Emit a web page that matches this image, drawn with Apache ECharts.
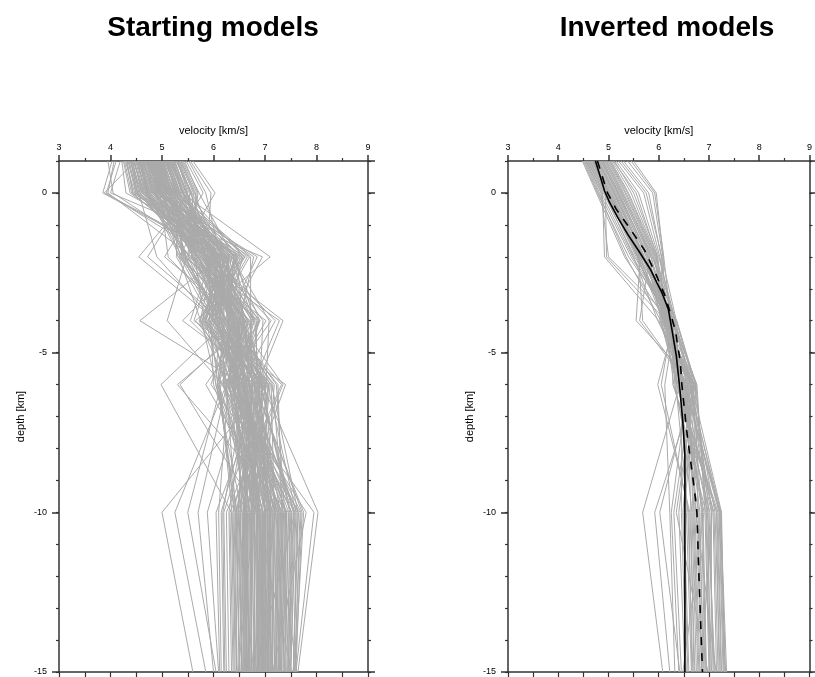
<!DOCTYPE html>
<html><head><meta charset="utf-8">
<script src="https://cdn.jsdelivr.net/npm/echarts@6/dist/echarts.min.js"></script>
<style>html,body{margin:0;padding:0;background:#fff}#c{width:815px;height:677px}</style>
</head><body><div id="c"></div>
<script>
// depth nodes of the models (km)
const depthNodes = [1, 0, -2, -4, -6, -10, -15];

// Starting models: velocity (km/s) at each depth node, one value per model
const startV_p1 = [4.62,5.08,4.35,4.91,5.27,4.48,4.77,5.12,3.95,4.83,
 5.34,4.56,4.99,4.41,5.18,4.70,5.02,4.29,4.88,5.41,
 4.65,4.95,4.52,5.21,4.11,4.79,5.06,4.38,4.93,5.30,
 4.60,4.85,5.14,4.45,5.55,4.73,4.97,4.32,5.10,4.68,
 4.90,5.24,4.50,4.81,4.03,5.00,4.63,5.37,4.76,4.42,
 5.16,4.87,4.58,5.04,4.25,4.94,5.29,4.71,4.46,5.09,
 4.84,4.36,5.22,4.66,4.98,4.54,5.47,4.80,4.19,5.01,
 4.74,4.89,4.43,5.13,4.61,5.33,4.92,4.57,4.80,5.19,
 4.40,4.96,4.69,5.07,4.27,4.86,5.25,4.53,4.75,5.60,
 4.64,5.03,4.49,4.82,5.11,4.34,4.78,5.39,4.59,4.99,
 4.72,5.15,4.44,4.97,5.31,4.58,4.86,5.20,4.07,4.91,
 5.05,4.47,4.79,5.36,4.63,4.94,4.31,5.11,4.70,5.44,
 4.56,4.88,5.23,4.39,4.99,5.08,4.68,4.83,5.52,4.51,
 4.95,4.62,5.17,4.76,4.22,5.01,4.87,5.28,4.54,4.73];
const startV_0 = [4.85,5.32,4.52,5.10,5.58,3.88,4.96,5.25,4.05,5.02,
 5.61,4.71,5.20,4.60,5.44,4.90,5.15,4.47,5.05,5.72,
 4.80,5.12,4.66,5.38,3.92,4.98,5.29,4.58,5.08,5.50,
 4.77,5.01,5.36,4.63,5.95,4.92,5.17,4.44,5.27,4.86,
 5.09,5.46,4.69,4.99,3.85,5.21,4.82,5.65,4.94,4.55,
 5.40,5.06,4.75,5.23,4.38,5.13,5.53,4.89,4.61,5.31,
 5.03,4.50,5.42,4.84,5.18,4.73,5.80,4.97,4.00,5.19,
 4.93,5.07,4.57,5.34,4.79,5.56,5.11,4.70,4.95,5.41,
 4.53,5.14,4.88,5.28,4.41,5.04,5.48,4.68,4.91,6.03,
 4.81,5.24,4.64,5.00,5.35,4.49,4.96,5.68,4.76,5.16,
 4.95,5.40,4.66,5.12,5.55,4.72,5.08,5.47,3.95,5.15,
 5.30,4.61,5.02,5.63,4.88,5.19,4.43,5.36,4.98,5.70,
 4.74,5.10,5.49,4.52,5.26,5.33,4.91,5.05,5.85,4.70,
 5.22,4.84,5.41,5.00,4.30,5.27,5.13,5.58,4.77,4.96];
const startV_m2 = [6.05,6.30,5.72,6.00,4.55,6.21,5.12,5.41,5.93,6.48,
 5.50,5.35,6.55,6.62,5.85,5.60,5.98,6.14,6.10,6.38,
 6.33,5.46,5.78,7.10,5.90,6.08,6.03,5.55,6.25,4.72,
 5.52,5.31,5.68,5.81,5.88,5.96,6.22,6.28,6.12,6.85,
 5.94,6.58,6.02,5.44,6.16,6.40,5.91,5.62,5.75,4.90,
 6.18,5.84,6.35,6.26,6.07,6.01,5.58,5.70,6.45,5.28,
 5.79,5.92,5.97,6.15,5.66,5.39,5.05,6.36,6.95,6.11,
 6.29,5.64,5.87,6.41,6.52,6.04,5.89,5.48,6.06,5.74,
 6.24,5.61,5.43,6.72,5.99,6.09,5.86,5.83,6.43,5.33,
 5.95,6.66,5.76,6.13,5.38,6.19,5.71,5.57,5.90,6.32,
 5.88,6.12,6.44,5.47,6.02,5.69,6.31,5.93,5.58,6.20,
 6.50,5.77,5.36,6.08,5.95,6.39,5.84,6.61,6.16,5.52,
 5.66,6.27,5.99,6.47,5.41,6.04,6.70,5.81,6.13,5.90,
 6.36,5.72,6.19,5.60,6.56,5.87,5.45,6.23,6.01,6.78];
const startV_m4 = [6.50,6.60,6.18,7.20,6.05,6.56,6.30,6.20,5.92,5.72,
 6.12,6.02,5.80,5.40,6.36,6.26,6.75,6.52,6.30,6.90,
 6.78,6.08,6.60,5.65,6.68,5.97,6.34,6.41,6.52,6.17,
 7.28,6.70,6.49,6.46,6.31,5.55,5.78,6.03,6.14,6.27,
 6.40,5.88,6.74,6.09,6.21,6.24,6.38,6.85,6.63,6.01,
 6.77,6.16,7.08,5.74,5.84,6.19,6.44,6.33,6.57,5.98,
 6.23,5.93,6.47,6.65,6.12,6.07,6.53,5.77,6.29,6.96,
 6.28,5.82,6.35,6.80,6.10,5.62,6.55,5.10,6.40,6.62,
 6.45,6.48,7.02,6.72,6.88,6.33,6.00,6.22,5.90,5.75,
 6.58,5.95,7.35,4.57,6.15,6.38,6.42,6.25,6.66,5.85,
 6.44,5.86,6.27,6.71,6.08,6.52,5.95,6.36,6.83,6.14,
 5.79,6.61,6.19,6.03,6.90,6.32,6.47,5.90,6.58,6.25,
 6.37,6.11,6.79,5.83,6.42,6.66,6.00,6.55,6.20,7.12,
 6.06,6.48,5.98,6.62,6.29,6.15,6.87,6.39,5.74,6.51];
const startV_m6 = [6.94,6.37,6.83,6.52,6.59,6.76,6.41,7.18,6.09,6.26,
 6.04,6.49,6.73,7.06,6.87,7.25,6.16,6.29,6.62,6.45,
 6.39,6.54,6.68,6.71,6.92,7.04,6.51,6.31,7.10,6.20,
 6.76,5.85,6.10,7.35,6.43,6.79,6.61,6.57,6.35,6.98,
 5.95,6.28,6.64,7.08,6.80,6.90,6.95,6.47,6.70,6.38,
 5.30,6.56,7.02,6.40,6.60,6.12,6.65,7.15,6.82,6.33,
 7.32,6.86,6.60,6.80,6.24,6.44,6.36,6.05,6.48,6.90,
 4.98,6.67,6.72,6.88,6.95,7.40,6.46,6.18,6.55,6.25,
 7.00,6.62,6.30,6.74,6.22,7.22,7.12,6.08,6.50,6.78,
 7.05,6.00,6.85,6.58,6.70,6.63,6.42,6.92,5.35,6.15,
 6.58,6.91,6.33,6.75,6.48,7.02,6.22,6.66,6.84,6.40,
 6.97,6.27,6.70,6.53,6.12,6.88,6.44,7.13,6.36,6.61,
 6.19,6.80,6.47,6.99,6.63,6.34,7.07,6.56,6.93,6.25,
 6.72,6.43,6.86,6.31,7.00,6.50,6.68,6.07,6.78,6.46];
const startV_m10 = [6.76,7.12,7.00,7.42,7.28,6.62,7.52,6.98,6.42,5.70,
 6.90,6.68,6.52,6.94,7.16,7.33,7.95,6.10,5.88,7.08,
 6.56,7.36,7.58,6.82,7.48,6.38,7.06,7.04,6.84,6.64,
 6.60,7.26,6.97,6.32,7.70,6.74,7.62,7.09,6.80,6.05,
 7.68,6.96,6.18,6.66,7.11,6.44,6.87,7.20,6.58,7.32,
 7.45,7.10,5.00,6.70,7.00,6.40,6.90,7.35,6.15,7.65,
 6.25,6.45,6.80,7.72,7.80,7.20,7.15,6.55,6.95,7.55,
 6.35,7.40,6.85,6.75,8.03,6.50,7.30,7.05,7.02,5.25,
 6.20,6.48,6.78,6.60,6.72,7.38,7.18,6.92,7.25,7.75,
 7.60,6.88,7.22,7.00,6.30,6.58,6.65,7.50,6.86,5.50,
 7.14,6.62,7.40,6.85,7.56,6.48,7.02,6.73,7.30,6.92,
 6.58,7.24,6.80,7.46,6.36,7.08,6.95,7.64,6.70,7.18,
 7.34,6.88,6.52,7.12,6.77,7.52,6.64,7.27,6.99,6.43,
 6.83,7.42,7.05,6.60,7.20,6.90,7.58,6.46,7.10,6.75];
const startV_m15 = [7.08,6.76,7.00,7.38,7.22,6.66,7.48,6.98,6.46,6.00,
 6.90,6.70,6.56,6.94,7.14,7.28,7.60,6.15,6.10,7.05,
 6.58,7.30,6.82,7.52,7.44,6.42,7.06,7.04,6.84,6.64,
 6.62,7.22,6.97,6.38,7.57,6.74,7.55,7.08,6.80,6.12,
 7.58,6.96,6.22,6.68,7.10,6.50,7.16,6.87,6.60,7.28,
 7.40,7.05,5.60,6.75,7.00,6.45,6.90,7.30,6.20,7.55,
 6.30,6.50,6.80,7.60,7.15,7.62,7.10,6.60,6.95,7.45,
 6.40,7.35,6.85,6.72,7.64,6.55,7.25,7.02,7.00,5.85,
 6.25,6.78,6.48,6.65,6.70,7.32,7.12,6.92,7.20,7.58,
 7.50,6.88,7.18,7.00,6.35,6.62,6.68,7.42,6.86,6.05,
 7.05,6.70,7.32,6.90,7.48,6.56,7.00,6.80,7.25,6.95,
 6.64,7.18,6.86,7.38,6.45,7.12,6.92,7.55,6.74,7.15,
 7.26,6.94,6.60,7.06,6.82,7.45,6.70,7.22,7.02,6.52,
 6.88,7.35,7.08,6.66,7.14,6.96,7.50,6.55,7.04,6.78];

// Inverted models
const invV_p1 = [4.62,4.85,4.50,5.02,4.71,5.30,4.58,4.93,4.78,5.45,
 4.66,4.98,4.54,4.80,5.12,4.69,4.88,5.20,4.60,4.74,
 5.05,4.52,4.83,4.95,4.64,5.38,4.76,4.90,4.56,5.08,
 4.70,4.86,5.15,4.48,4.81,5.00,4.67,5.25,4.59,4.92,
 4.79,5.50,4.63,4.96,4.73,5.10,4.55,4.87,4.68,5.03];
const invV_0 = [4.95,5.18,4.78,5.35,5.02,5.80,4.88,5.25,5.10,5.92,
 4.98,5.30,4.82,5.12,5.50,5.00,5.22,5.70,4.92,5.05,
 5.40,4.80,5.15,5.28,4.96,5.88,5.08,5.20,4.85,5.45,
 5.03,5.17,5.60,4.76,5.13,5.33,4.99,5.75,4.90,5.24,
 5.11,5.95,4.94,5.27,5.06,5.55,4.86,5.19,5.01,5.38];
const invV_m2 = [5.55,5.75,5.40,5.92,5.62,6.05,4.92,5.82,5.70,6.10,
 5.58,5.88,5.45,5.68,5.98,5.60,5.78,6.02,5.50,5.65,
 5.95,5.35,5.72,5.85,5.57,6.08,5.66,5.80,5.00,5.96,
 5.63,5.76,6.00,5.32,5.71,5.90,5.59,6.06,5.52,5.84,
 5.69,6.09,4.96,5.87,5.64,5.97,5.48,5.79,5.61,5.93];
const invV_m4 = [6.17,6.19,6.29,6.11,6.31,6.06,6.00,5.62,6.26,6.24,
 6.09,6.33,6.23,6.18,6.13,5.68,6.21,6.28,5.98,6.36,
 6.07,6.04,6.28,6.12,6.16,6.14,6.35,6.30,6.27,6.22,
 5.55,6.05,6.33,6.15,6.12,6.18,6.22,6.35,6.30,6.25,
 6.20,6.02,6.14,6.32,6.10,6.08,6.27,6.13,6.16,6.34];
const invV_m6 = [6.46,6.49,6.74,6.39,6.63,6.67,6.50,6.58,6.69,6.34,
 6.51,6.12,6.57,6.41,6.30,6.59,6.47,6.76,6.66,6.73,
 6.44,6.36,6.28,6.53,6.64,6.68,6.70,6.61,6.05,6.56,
 6.72,6.38,6.65,6.58,6.52,6.46,6.42,6.74,6.48,6.32,
 6.50,6.55,6.60,5.98,6.70,6.72,6.45,6.62,6.75,6.35];
const invV_m10 = [6.97,7.05,5.92,7.10,7.12,6.85,6.82,6.25,6.40,6.58,
 7.23,6.22,7.08,6.66,6.94,7.24,6.55,6.92,6.02,6.78,
 6.87,7.02,7.16,6.74,7.06,6.30,6.48,7.21,6.60,6.64,
 7.00,7.15,7.25,6.70,7.20,6.45,5.68,6.95,6.88,6.80,
 7.22,6.75,6.68,6.62,6.72,6.35,6.90,6.98,6.50,7.18];
const invV_m15 = [7.12,7.04,6.22,7.18,7.22,6.92,6.88,6.40,6.52,6.68,
 7.35,6.32,7.15,6.75,7.01,7.32,6.65,7.00,6.42,6.86,
 6.94,7.08,7.24,7.14,6.84,6.45,6.58,7.30,6.66,6.70,
 7.10,7.20,7.30,6.80,7.28,6.55,6.08,7.05,6.95,6.90,
 7.33,6.85,6.78,6.72,6.82,6.98,6.48,7.02,6.60,7.25];

// Solid black (final model)
const solidDepth = [1, 0.39, 0.07, -0.29, -0.76, -1.29, -1.81, -2.38, -2.8, -3.11, -3.64, -4.26, -5.1, -6.14, -7.19, -8.23, -15];
const solidV     = [4.74, 4.86, 4.92, 5.02, 5.18, 5.38, 5.60, 5.83, 5.96, 6.06, 6.19, 6.26, 6.35, 6.42, 6.48, 6.52, 6.52];
// Dashed black (mean of inverted models)
const dashDepth = [1, 0, -0.5, -1.1, -1.8, -2.5, -3.2, -3.6, -4.3, -5.3, -6.0, -7.5, -9.3, -10, -12, -15];
const dashV     = [4.78, 4.98, 5.15, 5.42, 5.72, 5.93, 6.12, 6.20, 6.33, 6.43, 6.46, 6.56, 6.71, 6.76, 6.80, 6.87];

const titles = ['Starting models', 'Inverted models'];
const xName = 'velocity [km/s]';
const yName = 'depth [km]';

const startSet = [startV_p1, startV_0, startV_m2, startV_m4, startV_m6, startV_m10, startV_m15];
const invSet = [invV_p1, invV_0, invV_m2, invV_m4, invV_m6, invV_m10, invV_m15];

const FONT = 'Liberation Sans';
const AX = '#333';

function axesFor(g) {
  const xs = [
    { gridIndex: g, type: 'value', position: 'top', min: 3, max: 9, interval: 1,
      name: xName, nameLocation: 'middle', nameGap: 25,
      nameTextStyle: { fontSize: 11, color: '#000', fontFamily: FONT },
      axisLine: { show: true, onZero: false, lineStyle: { color: AX, width: 1.5 } },
      axisTick: { show: true, length: 6, lineStyle: { color: AX, width: 1.5 } },
      minorTick: { show: true, splitNumber: 2, length: 3, lineStyle: { color: AX, width: 1.2 } },
      axisLabel: { fontSize: 9, color: '#000', margin: 9, fontFamily: FONT },
      splitLine: { show: false } },
    { gridIndex: g, type: 'value', position: 'bottom', min: 3, max: 9, interval: 0.5,
      axisLine: { show: true, onZero: false, lineStyle: { color: AX, width: 1.5 } },
      axisTick: { show: true, length: 5, lineStyle: { color: AX, width: 1.2 } },
      axisLabel: { show: false }, splitLine: { show: false } }
  ];
  const ys = [
    { gridIndex: g, type: 'value', position: 'left', min: -15, max: 1, interval: 5,
      name: yName, nameLocation: 'middle', nameGap: 33, nameRotate: 90,
      nameTextStyle: { fontSize: 11, color: '#000', fontFamily: FONT },
      axisLine: { show: true, onZero: false, lineStyle: { color: AX, width: 1.5 } },
      axisTick: { show: true, length: 7, lineStyle: { color: AX, width: 1.5 } },
      axisLabel: { fontSize: 9, color: '#000', margin: 12, fontFamily: FONT, showMaxLabel: false },
      splitLine: { show: false } },
    { gridIndex: g, type: 'value', position: 'left', min: -15, max: 1, interval: 1,
      axisLine: { show: false, onZero: false },
      axisTick: { show: true, length: 3, lineStyle: { color: AX, width: 1.2 } },
      axisLabel: { show: false }, splitLine: { show: false } },
    { gridIndex: g, type: 'value', position: 'right', min: -15, max: 1, interval: 5,
      axisLine: { show: true, onZero: false, lineStyle: { color: AX, width: 1.5 } },
      axisTick: { show: true, length: 7, lineStyle: { color: AX, width: 1.5 } },
      axisLabel: { show: false }, splitLine: { show: false } },
    { gridIndex: g, type: 'value', position: 'right', min: -15, max: 1, interval: 1,
      axisLine: { show: false, onZero: false },
      axisTick: { show: true, length: 3, lineStyle: { color: AX, width: 1.2 } },
      axisLabel: { show: false }, splitLine: { show: false } }
  ];
  return { xs, ys };
}

const a0 = axesFor(0), a1 = axesFor(1);
const xAxis = a0.xs.concat(a1.xs);
const yAxis = a0.ys.concat(a1.ys);

const series = [];
function addModels(set, xIdx, yIdx) {
  const n = set[0].length;
  for (let i = 0; i < n; i++) {
    series.push({
      type: 'line', xAxisIndex: xIdx, yAxisIndex: yIdx, silent: true,
      showSymbol: false, symbol: 'none', animation: false, clip: true,
      lineStyle: { color: '#aaaaaa', width: 1 },
      data: depthNodes.map((d, k) => [set[k][i], d])
    });
  }
}
addModels(startSet, 0, 0);
addModels(invSet, 2, 4);
series.push({
  type: 'line', xAxisIndex: 2, yAxisIndex: 4, silent: true, symbol: 'none', animation: false, clip: true,
  lineStyle: { color: '#000', width: 1.6 },
  data: solidDepth.map((d, k) => [solidV[k], d]), z: 5
});
series.push({
  type: 'line', xAxisIndex: 2, yAxisIndex: 4, silent: true, symbol: 'none', animation: false, clip: true,
  lineStyle: { color: '#000', width: 1.6, type: [8, 8] },
  data: dashDepth.map((d, k) => [dashV[k], d]), z: 5
});

const chart = echarts.init(document.getElementById('c'), null, { renderer: 'canvas' });
chart.setOption({
  animation: false,
  backgroundColor: '#fff',
  title: [
    { text: titles[0], left: 208, top: 9, textAlign: 'center',
      textStyle: { fontSize: 28, fontWeight: 'bold', color: '#000', fontFamily: FONT } },
    { text: titles[1], left: 662, top: 9, textAlign: 'center',
      textStyle: { fontSize: 28, fontWeight: 'bold', color: '#000', fontFamily: FONT } }
  ],
  grid: [
    { left: 59, top: 161, width: 309, height: 511, containLabel: false },
    { left: 508, top: 161, width: 307.5, height: 511, containLabel: false }
  ],
  xAxis, yAxis, series
});
</script>
</body></html>
